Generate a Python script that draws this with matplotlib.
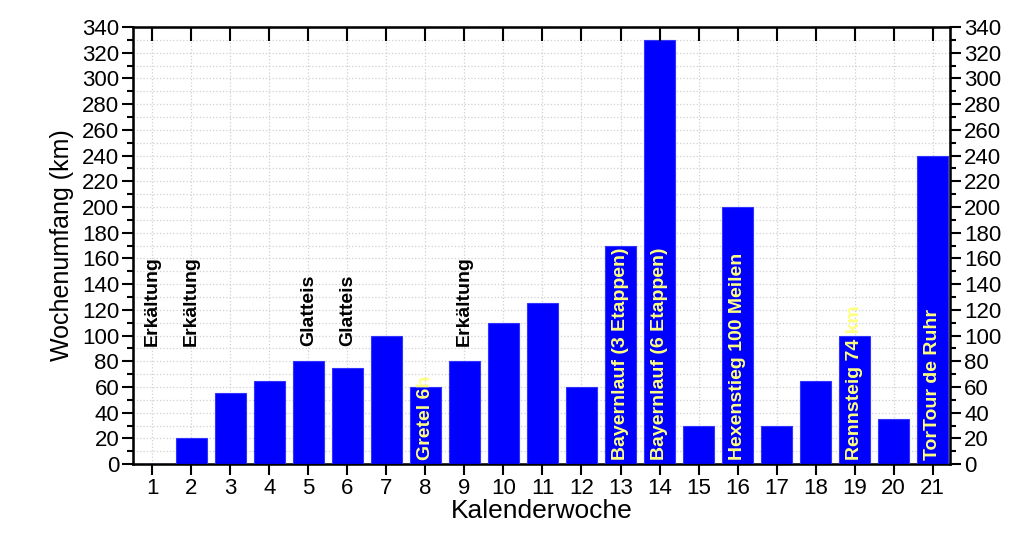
import matplotlib
matplotlib.use('Agg')
import matplotlib.pyplot as plt
from matplotlib.ticker import MultipleLocator

plt.rcParams['font.family'] = ['Liberation Sans', 'DejaVu Sans']

weeks = list(range(1, 22))
km = [0, 20, 55, 65, 80, 75, 100, 60, 80, 110, 125, 60, 170, 330, 30, 200, 30, 65, 100, 35, 240]

# notes above bars (black) and race names inside bars (yellow)
notes = {1: "Erkältung", 2: "Erkältung", 5: "Glatteis", 6: "Glatteis", 9: "Erkältung"}
races = {8: "Gretel 6h", 13: "Bayernlauf (3 Etappen)", 14: "Bayernlauf (6 Etappen)",
         16: "Hexenstieg 100 Meilen", 19: "Rennsteig 74 km", 21: "TorTour de Ruhr"}

fig = plt.figure(figsize=(10.24, 5.46), dpi=100)
ax = fig.add_axes([0.130, 0.150, 0.798, 0.8005])

ax.bar(weeks, km, width=0.8, color='#0000ff', edgecolor='#3333ff', linewidth=0.8, zorder=3)

for w, txt in notes.items():
    ax.text(w, 92, txt, rotation=90, ha='center', va='bottom',
            fontsize=14, fontweight='bold', color='black', zorder=4)
for w, txt in races.items():
    ax.text(w, 3, txt, rotation=90, ha='center', va='bottom',
            fontsize=14, fontweight='bold', color='#ffff80', zorder=4)

ax.set_xlim(0.51, 21.45)
ax.set_ylim(0, 340)
ax.set_xticks(weeks)
ax.yaxis.set_major_locator(MultipleLocator(20))
ax.yaxis.set_minor_locator(MultipleLocator(10))
ax.tick_params(axis='both', labelsize=16)
ax.tick_params(axis='x', direction='out', length=8, width=1.5, pad=2)
ax.tick_params(axis='y', which='major', direction='out', length=8, width=1.5, pad=2)
ax.tick_params(axis='y', which='minor', direction='out', length=4, width=1.5)
ax.grid(True, which='both', axis='y', color='#d0d0d0', linestyle=':', linewidth=0.9, zorder=0)
ax.grid(True, which='major', axis='x', color='#d0d0d0', linestyle=':', linewidth=0.9, zorder=0)
for s in ax.spines.values():
    s.set_linewidth(1.8)

ax.set_xlabel("Kalenderwoche", fontsize=19, labelpad=0)
ax.set_ylabel("Wochenumfang (km)", fontsize=18, labelpad=6)

ax2 = ax.twinx()
ax2.set_ylim(0, 340)
ax2.yaxis.set_major_locator(MultipleLocator(20))
ax2.yaxis.set_minor_locator(MultipleLocator(10))
ax2.tick_params(axis='y', which='major', direction='out', length=8, width=1.5, labelsize=16, pad=2)
ax2.tick_params(axis='y', which='minor', direction='out', length=4, width=1.5)

# top ticks point inward
ax3 = ax.twiny()
ax3.set_xlim(ax.get_xlim())
ax3.set_xticks(weeks)
ax3.set_xticklabels([])
ax3.tick_params(axis='x', direction='in', length=10, width=1.5)

fig.savefig('out.png', dpi=100)
